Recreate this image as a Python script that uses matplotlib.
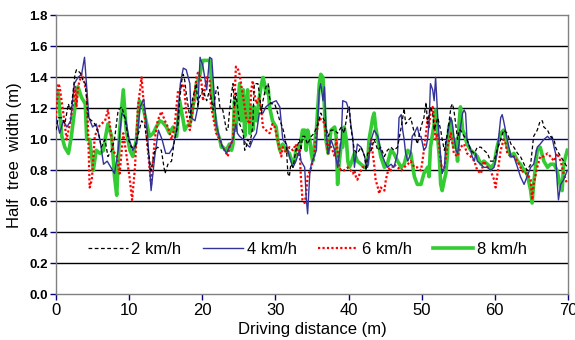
import matplotlib
matplotlib.use("Agg")
import matplotlib.pyplot as plt

plt.rcParams['font.family'] = ['Liberation Sans', 'DejaVu Sans']

# 2 km/h
d2 = [0, 0.3, 0.8, 1.2, 1.7, 1.9, 2.1, 2.6, 2.8, 3.3, 3.7, 4.0, 4.4, 4.9, 5.3, 5.8, 6.2, 6.7, 7.1, 7.6,
      8.0, 8.5, 9.0, 9.4, 9.9, 10.3, 10.8, 11.7, 12.1, 12.6, 13.0, 13.5, 13.9, 14.4, 14.9, 15.3, 15.8, 16.2, 16.7,
      16.9, 17.2, 17.4, 17.6, 17.8, 18.3, 18.7, 19.2, 19.4, 19.6, 20.1, 20.6, 21.0, 21.5, 21.9, 22.1, 22.4, 22.8,
      23.3, 23.5, 23.7, 24.0, 24.2, 24.4, 24.6, 25.1, 25.6, 25.8, 26.0, 26.2, 26.5, 26.9, 27.1, 27.6, 27.8, 28.1,
      28.3, 28.7, 29.0, 29.2, 29.4, 29.9, 30.3, 30.6, 30.8, 31.2, 31.5, 31.7, 31.9, 32.1, 32.4, 32.8, 33.3, 33.5,
      33.7, 34.0, 34.4, 34.9, 35.3, 35.8, 36.2, 36.7, 37.2, 37.6, 38.1, 38.5, 39.0, 39.4, 39.9, 40.1, 40.3, 40.8,
      41.2, 41.7, 42.2, 42.4, 42.6, 43.1, 43.5, 44.0, 44.4, 44.9, 45.3, 45.8, 46.2, 46.7, 47.2, 47.6, 47.8, 48.1,
      48.5, 49.0, 49.4, 49.9, 50.3, 50.6, 50.8, 51.2, 51.5, 51.7, 52.2, 52.6, 52.8, 53.1, 53.5, 53.7, 54.0, 54.2,
      54.4, 54.7, 54.9, 55.1, 55.3, 55.8, 56.2, 56.7, 57.2, 57.6, 58.1, 58.5, 59.0, 59.4, 59.9, 60.3, 60.8, 61.2,
      61.7, 62.2, 62.6, 63.1, 63.5, 64.0, 64.4, 64.9, 65.3, 65.8, 66.2, 66.5, 66.7, 67.2, 67.6, 68.1, 68.3, 68.5,
      69.0, 69.4, 69.9]
w2 = [1.06, 1.14, 1.14, 1.10, 1.23, 1.19, 1.21, 1.42, 1.45, 1.43, 1.38, 1.36, 1.14, 1.12, 1.10, 1.04, 0.95, 1.00, 0.89, 0.93,
      1.00, 1.19, 1.21, 1.14, 1.00, 0.95, 0.95, 1.12, 1.10, 0.93, 0.80, 0.93, 0.95, 0.93, 0.78, 0.84, 0.86, 1.00, 1.10,
      1.25, 1.38, 1.42, 1.38, 1.30, 1.14, 1.27, 1.36, 1.21, 1.27, 1.32, 1.25, 1.32, 1.19, 1.32, 1.34, 1.21, 1.19,
      1.06, 1.06, 1.17, 1.30, 1.36, 1.21, 1.30, 1.10, 1.04, 0.93, 0.95, 1.00, 0.97, 1.08, 1.36, 1.36, 1.30, 1.17,
      1.25, 1.34, 1.36, 1.27, 1.23, 1.23, 1.17, 1.12, 1.10, 1.04, 0.95, 0.78, 0.76, 0.84, 0.82, 0.93, 1.00, 0.93,
      1.02, 1.02, 0.97, 1.02, 1.04, 1.10, 1.17, 1.12, 1.02, 1.06, 1.06, 1.04, 1.08, 1.04, 1.19, 1.21, 1.08, 0.93,
      0.91, 0.95, 0.89, 0.80, 0.91, 0.93, 1.00, 0.93, 0.95, 0.89, 0.93, 0.95, 0.93, 0.95, 1.08, 1.20, 1.10, 1.12,
      1.14, 1.04, 0.97, 1.08, 1.14, 1.24, 1.10, 1.21, 1.17, 1.06, 1.14, 1.06, 1.00, 0.93, 1.04, 1.10, 1.21, 1.23,
      1.19, 1.08, 1.00, 1.06, 1.06, 1.02, 1.00, 0.93, 0.91, 0.95, 0.95, 0.93, 0.91, 0.86, 0.86, 0.93, 1.00, 1.06,
      1.04, 0.97, 0.95, 0.91, 0.89, 0.84, 0.80, 0.84, 1.02, 1.06, 1.12, 1.12, 1.08, 1.06, 1.02, 1.00, 0.95, 0.93,
      0.89, 0.86, 0.82]

# 4 km/h
d4 = [0, 0.5, 1.0, 1.5, 2.0, 2.5, 3.0, 3.5, 3.9, 4.5, 5.0, 5.5, 6.0, 6.5, 7.0, 7.5, 8.0, 8.5, 9.0, 9.5,
      10.0, 10.5, 11.0, 11.5, 12.0, 12.5, 13.0, 13.5, 14.0, 14.5, 15.0, 15.5, 16.0, 16.5, 17.0,
      17.4, 17.8, 18.3, 18.5, 19.0, 19.4, 19.7, 20.1, 20.6, 21.0, 21.3, 21.5, 21.9, 22.4, 22.8, 23.3, 23.7, 24.2,
      24.6, 24.8, 25.1, 25.6, 26.0, 26.5, 26.9, 27.4, 27.8, 28.3, 28.7, 29.2, 30.1, 30.6, 31.0, 31.5, 31.9, 32.4,
      32.8, 33.3, 33.5, 34.0, 34.2, 34.4, 34.7, 34.9, 35.3, 35.6, 35.8, 36.0, 36.2, 36.5, 36.7, 36.9, 37.2, 37.4,
      37.6, 38.1, 38.5, 39.0, 39.2, 39.7, 39.9, 40.1, 40.3, 40.6, 40.8, 41.2, 41.7, 41.9, 42.2, 42.4, 42.6, 43.1,
      43.5, 44.0, 44.4, 44.9, 45.3, 45.8, 46.2, 46.7, 46.9, 47.2, 47.4, 47.6, 47.8, 48.1, 48.5, 48.7, 49.0, 49.4,
      49.7, 49.9, 50.3, 50.6, 50.8, 51.0, 51.2, 51.5, 51.7, 51.9, 52.2, 52.4, 52.6, 52.8, 53.1, 53.3, 53.5, 53.7,
      54.0, 54.2, 54.4, 54.7, 54.9, 55.1, 55.3, 55.6, 55.8, 56.0, 56.2, 56.7, 56.9, 57.2, 57.4, 57.6, 58.1, 58.5,
      59.0, 59.4, 59.9, 60.3, 60.8, 61.0, 61.2, 61.7, 62.2, 62.6, 63.1, 63.5, 64.0, 64.4, 64.9, 65.3, 65.8, 66.2,
      66.7, 67.2, 67.6, 67.8, 68.1, 68.3, 68.5, 68.7, 69.0, 69.4, 69.9]
w4 = [1.14, 1.04, 1.12, 1.08, 1.12, 1.36, 1.40, 1.42, 1.53, 1.14, 1.08, 1.10, 1.00, 0.84, 0.86, 0.82, 0.78, 0.93, 1.17, 1.14,
      1.00, 0.93, 0.97, 1.21, 1.26, 1.04, 0.67, 0.89, 1.06, 1.00, 0.91, 0.91, 0.95, 1.06, 1.36,
      1.46, 1.45, 1.36, 1.14, 1.12, 1.21, 1.53, 1.47, 1.32, 1.53, 1.52, 1.38, 1.10, 1.00, 0.95, 0.91, 0.95, 1.00,
      1.10, 1.04, 1.02, 1.00, 0.97, 0.95, 1.00, 1.04, 1.17, 1.17, 1.21, 1.23, 1.25, 1.21, 1.00, 0.97, 0.89, 0.82,
      0.86, 0.93, 0.86, 0.82, 0.63, 0.52, 0.78, 0.84, 0.89, 0.93, 1.14, 1.32, 1.36, 1.25, 1.34, 1.08, 0.91, 0.95,
      1.00, 0.93, 0.82, 1.00, 1.25, 1.24, 1.21, 1.19, 1.10, 1.00, 0.82, 0.97, 0.95, 0.93, 0.89, 0.84, 0.82, 1.00,
      1.06, 1.02, 0.93, 0.86, 0.82, 0.84, 0.82, 0.91, 1.14, 1.16, 1.06, 1.00, 0.91, 0.86, 0.91, 1.02, 1.04, 1.08,
      1.02, 1.02, 0.93, 0.95, 1.00, 1.10, 1.36, 1.32, 1.25, 1.40, 1.14, 1.00, 0.89, 0.78, 0.82, 0.97, 1.02, 1.08,
      1.14, 1.10, 1.02, 0.93, 0.91, 0.97, 1.08, 1.17, 1.19, 1.17, 1.00, 0.93, 0.89, 0.86, 0.91, 0.86, 0.84, 0.82,
      0.82, 0.80, 0.82, 0.91, 1.14, 1.16, 1.12, 1.00, 0.89, 0.89, 0.82, 0.76, 0.71, 0.76, 0.82, 0.84, 0.95, 0.97,
      1.00, 1.02, 1.00, 1.02, 0.95, 0.91, 0.74, 0.61, 0.71, 0.74, 0.80]

# 6 km/h
d6 = [0, 0.3, 0.5, 1.0, 1.45, 1.9, 2.4, 2.6, 2.8, 3.0, 3.5, 3.7, 4.0, 4.2, 4.4, 4.6, 4.9, 5.3, 5.8, 6.2,
      6.7, 7.1, 7.4, 7.8, 8.3, 8.7, 9.2, 9.6, 10.1, 10.4, 10.8, 11.2, 11.7, 12.1, 12.6, 13.0, 13.5, 13.9, 14.4,
      14.9, 15.3, 15.8, 16.2, 16.7, 16.9, 17.4, 17.6, 17.8, 18.1, 18.3, 18.7, 19.2, 19.4, 19.6, 19.9, 20.1, 20.6,
      21.0, 21.2, 21.5, 21.9, 22.4, 22.8, 23.3, 23.5, 23.7, 24.2, 24.4, 24.6, 24.9, 25.1, 25.3, 25.6, 25.8, 26.0,
      26.5, 26.7, 26.9, 27.1, 27.4, 27.8, 28.1, 28.3, 28.7, 29.2, 29.6, 29.9, 30.1, 30.6, 30.8, 31.0, 31.5, 31.9,
      32.4, 32.8, 33.1, 33.3, 33.5, 33.7, 34.0, 34.2, 34.4, 34.9, 35.1, 35.3, 35.6, 36.0, 36.2, 36.5, 36.7, 37.2,
      37.4, 37.6, 37.8, 38.1, 38.3, 38.5, 38.7, 39.0, 39.4, 39.9, 40.3, 40.6, 40.8, 41.0, 41.2, 41.7, 41.9, 42.4,
      42.6, 42.8, 43.1, 43.3, 43.5, 43.7, 44.0, 44.2, 44.4, 44.9, 45.1, 45.3, 45.6, 45.8, 46.2, 46.7, 47.2, 47.6,
      48.1, 48.5, 49.0, 49.4, 49.9, 50.1, 50.3, 50.6, 50.8, 51.0, 51.2, 51.5, 51.7, 51.9, 52.2, 52.6, 52.8, 53.1,
      53.5, 54.0, 54.4, 54.9, 55.3, 55.8, 56.2, 56.7, 57.2, 57.6, 58.1, 58.5, 59.0, 59.4, 59.9, 60.1, 60.3, 60.8,
      61.2, 61.5, 61.7, 62.2, 62.6, 63.1, 63.5, 64.0, 64.4, 64.9, 65.1, 65.3, 65.8, 66.2, 66.7, 67.2, 67.6, 68.1,
      68.5, 69.0, 69.4, 69.9]
w6 = [1.14, 1.36, 1.34, 1.17, 1.00, 1.10, 1.25, 1.34, 1.21, 1.34, 1.42, 1.40, 1.34, 1.30, 1.04, 0.69, 0.74, 1.02, 1.08, 1.10,
      1.12, 1.19, 1.08, 0.93, 0.89, 0.78, 1.04, 0.91, 0.74, 0.61, 0.82, 1.21, 1.40, 1.17, 0.91, 0.71, 1.00, 1.12, 1.18,
      1.12, 1.08, 1.00, 1.08, 1.32, 1.32, 1.36, 1.30, 1.17, 1.10, 1.06, 1.19, 1.40, 1.43, 1.42, 1.36, 1.25, 1.40,
      1.38, 1.21, 1.14, 1.04, 1.00, 0.95, 0.91, 0.89, 0.95, 1.00, 1.25, 1.47, 1.45, 1.42, 1.36, 1.27, 1.21, 1.14,
      1.10, 1.32, 1.38, 1.30, 1.23, 1.27, 1.17, 1.08, 1.06, 1.04, 1.10, 1.08, 1.04, 0.93, 0.89, 0.95, 0.91, 0.95,
      0.93, 0.97, 0.89, 0.93, 0.74, 0.61, 0.59, 0.65, 0.76, 0.82, 0.86, 0.89, 1.04, 1.14, 1.13, 1.12, 1.10, 0.91,
      1.00, 0.95, 0.93, 0.89, 1.00, 0.93, 0.82, 0.80, 0.80, 0.82, 0.80, 0.78, 0.80, 0.76, 0.74, 0.80, 0.82, 0.82,
      0.86, 0.91, 1.00, 0.91, 0.84, 0.74, 0.69, 0.65, 0.69, 0.67, 0.74, 0.78, 0.82, 0.80, 0.84, 0.82, 0.80, 0.82,
      0.84, 0.86, 0.82, 0.82, 0.80, 0.86, 0.93, 1.04, 1.14, 1.08, 1.17, 1.21, 1.12, 1.00, 1.04, 0.86, 0.80, 0.82,
      0.95, 1.04, 0.91, 0.89, 0.95, 0.97, 0.91, 0.89, 0.86, 0.80, 0.78, 0.86, 0.82, 0.80, 0.74, 0.69, 0.76, 0.93,
      1.00, 0.97, 0.91, 0.89, 0.89, 0.86, 0.82, 0.78, 0.78, 0.74, 0.61, 0.71, 0.82, 0.89, 0.89, 0.91, 0.89, 0.86,
      0.91, 0.86, 0.78, 0.71]

# 8 km/h
d8 = [0, 0.3, 0.8, 1.2, 1.7, 2.1, 2.6, 3.0, 3.5, 4.0, 4.2, 4.6, 5.1, 5.5, 6.0, 6.5, 6.7, 7.1, 7.6, 8.0,
      8.3, 8.7, 9.2, 9.6, 10.1, 10.5, 11.0, 11.4, 11.9, 12.4, 12.8, 13.3, 13.7, 14.2, 14.6, 15.1, 15.5, 16.0, 16.5,
      16.9, 17.4, 17.6, 17.8, 18.3, 18.5, 18.7, 19.0, 19.2, 19.4, 19.6, 19.9, 20.1, 20.6, 21.0, 21.2, 21.5, 21.9,
      22.1, 22.4, 22.6, 22.8, 23.3, 23.7, 24.0, 24.2, 24.4, 24.6, 25.1, 25.3, 25.6, 25.8, 26.0, 26.2, 26.5, 26.7,
      26.9, 27.1, 27.4, 27.8, 28.1, 28.3, 28.5, 28.7, 29.0, 29.2, 29.6, 30.1, 30.3, 30.6, 31.0, 31.5, 31.9, 32.4,
      32.6, 32.8, 33.1, 33.3, 33.7, 34.0, 34.2, 34.4, 34.7, 34.9, 35.1, 35.3, 35.6, 35.8, 36.0, 36.2, 36.5, 36.7,
      36.9, 37.2, 37.6, 38.1, 38.3, 38.5, 38.7, 39.0, 39.2, 39.4, 39.7, 39.9, 40.1, 40.3, 40.8, 41.2, 41.7, 42.2,
      42.6, 42.8, 43.1, 43.3, 43.5, 43.7, 44.0, 44.4, 44.9, 45.3, 45.8, 46.2, 46.7, 47.2, 47.6, 48.1, 48.5, 49.0,
      49.4, 49.9, 50.3, 50.8, 51.0, 51.2, 51.7, 51.9, 52.2, 52.4, 52.6, 52.8, 53.1, 53.3, 53.5, 53.7, 54.0, 54.2,
      54.4, 54.7, 54.9, 55.1, 55.3, 55.6, 55.8, 56.2, 56.7, 57.2, 57.6, 58.1, 58.5, 59.0, 59.4, 59.9, 60.3, 60.8,
      61.2, 61.7, 62.2, 62.6, 63.1, 63.5, 64.0, 64.4, 64.9, 65.1, 65.3, 65.8, 66.2, 66.7, 67.2, 67.6, 68.1, 68.5,
      69.0, 69.2, 69.4, 69.9]
w8 = [1.32, 1.30, 1.02, 0.95, 0.91, 1.02, 1.21, 1.34, 1.27, 1.23, 1.00, 1.00, 0.80, 0.93, 0.91, 0.93, 1.00, 1.10, 1.02, 0.76,
      0.64, 1.06, 1.32, 1.06, 0.93, 0.89, 1.00, 1.25, 1.21, 1.10, 1.02, 1.04, 1.08, 1.12, 1.11, 1.08, 1.04, 1.08, 1.02,
      1.25, 1.12, 1.06, 1.08, 1.10, 1.14, 1.21, 1.27, 1.36, 1.38, 1.40, 1.47, 1.51, 1.51, 1.51, 1.42, 1.21, 1.10,
      1.04, 1.00, 0.95, 0.95, 0.93, 0.97, 0.93, 0.97, 1.25, 1.06, 1.36, 1.12, 1.32, 1.02, 1.21, 1.32, 1.04, 1.21,
      1.06, 1.21, 1.12, 1.27, 1.36, 1.40, 1.36, 1.30, 1.34, 1.21, 1.12, 1.08, 1.00, 0.93, 0.97, 0.93, 0.91, 0.84,
      0.86, 0.93, 0.95, 0.93, 1.06, 1.06, 0.93, 1.06, 1.00, 0.91, 0.86, 0.95, 1.06, 1.21, 1.36, 1.42, 1.40, 1.21,
      1.00, 0.91, 1.06, 1.08, 1.02, 0.71, 0.84, 0.97, 0.95, 1.08, 1.00, 0.86, 0.82, 0.84, 0.91, 0.86, 0.84, 0.82,
      0.84, 1.00, 1.08, 1.14, 1.17, 1.08, 1.00, 0.89, 0.82, 0.84, 0.93, 0.91, 0.86, 0.82, 0.84, 0.93, 0.91, 0.76,
      0.71, 0.71, 0.78, 0.82, 0.76, 0.95, 1.10, 1.19, 1.00, 0.89, 0.71, 0.67, 0.74, 0.78, 0.89, 1.08, 1.12, 1.02,
      0.95, 1.00, 0.86, 1.10, 1.21, 1.06, 1.04, 0.97, 0.93, 0.91, 0.89, 0.84, 0.86, 0.84, 0.82, 0.84, 0.95, 1.04,
      1.06, 0.95, 0.89, 0.91, 0.86, 0.84, 0.80, 0.78, 0.67, 0.59, 0.71, 0.93, 0.95, 0.86, 0.82, 0.84, 0.84, 0.80,
      0.69, 0.67, 0.84, 0.93]

x_ticks = [0, 10, 20, 30, 40, 50, 60, 70]
y_ticks = [0.0, 0.2, 0.4, 0.6, 0.8, 1.0, 1.2, 1.4, 1.6, 1.8]

fig = plt.figure(figsize=(5.75, 3.4), dpi=100)
ax = fig.add_axes([0.0974, 0.134, 0.8904, 0.8206])

# horizontal grid lines
for yv in y_ticks[1:-1]:
    col = '#000080' if yv == 1.0 else 'black'
    ax.axhline(yv, color=col, lw=1.0, zorder=1)

ax.plot(d8, w8, color='#33cc33', lw=2.6, label='8 km/h', zorder=2)
ax.plot(d6, w6, color='#ff0000', lw=1.6, linestyle=(0, (1, 1)), label='6 km/h', zorder=3)
ax.plot(d4, w4, color='#333399', lw=1.0, label='4 km/h', zorder=4)
ax.plot(d2, w2, color='black', lw=0.9, linestyle=(0, (3, 2)), label='2 km/h', zorder=5)

ax.set_xlim(0, 70)
ax.set_ylim(0, 1.8)
ax.set_xticks(x_ticks)
ax.set_yticks(y_ticks)
ax.set_yticklabels(['%.1f' % v for v in y_ticks], fontsize=9.5, fontweight='bold')
ax.set_xticklabels([str(v) for v in x_ticks], fontsize=12)
ax.tick_params(direction='out', length=4, width=1, color='#000080', pad=2)

for s in ax.spines.values():
    s.set_color('#808080')
    s.set_linewidth(1.0)

ax.set_xlabel('Driving distance (m)', fontsize=12, labelpad=3)
ax.set_ylabel('Half  tree  width (m)', fontsize=12, labelpad=5)

handles, labels = ax.get_legend_handles_labels()
ax.legend(handles[::-1], labels[::-1], ncol=4, frameon=False, fontsize=12,
          loc='center', bbox_to_anchor=(0.491, 0.16), handlelength=2.4,
          handletextpad=0.2, columnspacing=1.3)

fig.savefig('out.png', dpi=100)
